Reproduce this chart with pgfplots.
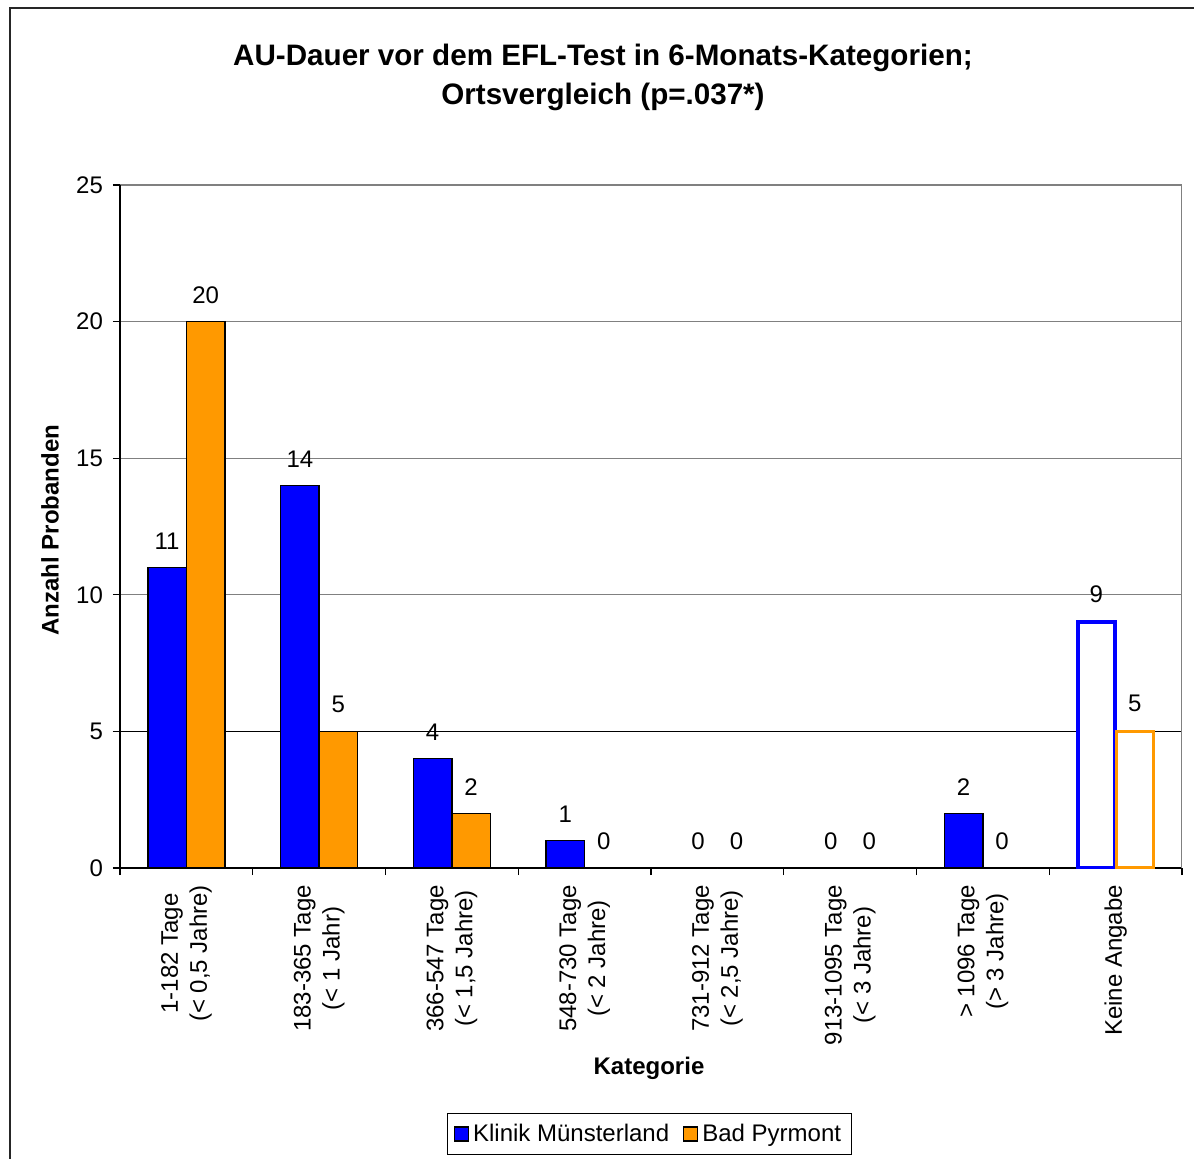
\documentclass[border=0pt]{standalone}
\usepackage{fontspec}
\setmainfont{Liberation Sans}
\usepackage{pgfplots}
\pgfplotsset{compat=1.18}
\definecolor{klinik}{RGB}{0,0,255}
\definecolor{pyrmont}{RGB}{255,153,0}
\definecolor{gridgray}{RGB}{128,128,128}

\begin{document}
\begin{tikzpicture}
% page area and outer frame
\path[use as bounding box] (-60pt,-145pt) rectangle (537pt,434pt);
\draw[line width=0.8pt, black!85] (-55pt,-150pt) -- (-55pt,430pt) -- (540pt,430pt);

% title and axis titles
\node[font={\fontsize{14.8}{19.5}\selectfont\bfseries}, align=center] at (241.5pt,395.5pt)
  {AU-Dauer vor dem EFL-Test in 6-Monats-Kategorien;\\Ortsvergleich (p=.037*)};
\node[font={\fontsize{12}{14}\selectfont\bfseries}, rotate=90] at (-35pt,169pt) {Anzahl Probanden};
\node[font={\fontsize{12}{14}\selectfont\bfseries}] at (264.5pt,-100pt) {Kategorie};

\begin{axis}[
  at={(0,0)}, anchor=south west,
  scale only axis, width=531pt, height=341.5pt,
  ybar=0pt,
  xmin=-0.5, xmax=7.5,
  ymin=0, ymax=25,
  axis x line*=bottom, axis y line*=left,
  axis line style={black, line width=0.7pt},
  tick align=outside,
  major tick length=3.5pt,
  tick style={black, line width=0.6pt},
  xtick={-0.5,0.5,...,7.5},
  xticklabels={{},{},{},{},{},{},{},{},{}},
  extra x ticks={0,1,2,3,4,5,6,7},
  extra x tick labels={
    {1-182 Tage\\(< 0,5 Jahre)},
    {183-365 Tage\\(< 1 Jahr)},
    {366-547 Tage\\(< 1,5 Jahre)},
    {548-730 Tage\\(< 2 Jahre)},
    {731-912 Tage\\(< 2,5 Jahre)},
    {913-1095 Tage\\(< 3 Jahre)},
    {> 1096 Tage\\(> 3 Jahre)},
    {Keine Angabe}},
  extra x tick style={
    major tick length=0pt,
    tick label style={rotate=90, anchor=east, align=center,
      font={\fontsize{12}{14.5}\selectfont}, xshift=-5pt}},
  ytick={0,5,10,15,20,25},
  yticklabel style={font={\fontsize{12}{14}\selectfont}, xshift=-1.5pt},
  /pgf/number format/assume math mode=true,
  ymajorgrids,
  major grid style={gridgray, line width=0.6pt},
  extra y ticks={5},
  extra y tick labels={},
  extra y tick style={grid=major, major grid style={black, line width=0.6pt}},
  nodes near coords,
  every node near coord/.append style={font={\fontsize{12}{14}\selectfont}, yshift=5.5pt, black},
  legend columns=2,
  legend style={at={(0.4986,-0.3895)}, anchor=center, draw=black, line width=0.6pt,
    font={\fontsize{12}{14}\selectfont}, inner xsep=3pt, inner ysep=3pt,
    /tikz/every even column/.append style={column sep=5pt}},
  legend image code/.code={\draw[#1, draw=black, line width=0.6pt] (0pt,-3.5pt) rectangle (7pt,3.5pt);},
]
% plot area right border
\draw[gridgray, line width=0.6pt] (rel axis cs:1,0) -- (rel axis cs:1,1);

\addplot[bar width=19.25pt, bar shift=-9.625pt, fill=klinik, draw=black, line width=0.7pt]
  coordinates {(0,11) (1,14) (2,4) (3,1) (4,0) (5,0) (6,2)};
\addplot[bar width=19.25pt, bar shift=9.625pt, fill=pyrmont, draw=black, line width=0.7pt]
  coordinates {(0,20) (1,5) (2,2) (3,0) (4,0) (5,0) (6,0)};
% no answer given: outlined bars
\addplot[bar width=18.5pt, bar shift=-9.625pt, fill=white, draw=klinik, line width=1.7pt, forget plot]
  coordinates {(7,9)};
\addplot[bar width=18.5pt, bar shift=9.625pt, fill=white, draw=pyrmont, line width=1.7pt, forget plot]
  coordinates {(7,5)};
\legend{Klinik Münsterland, Bad Pyrmont}
\end{axis}
\end{tikzpicture}
\end{document}
